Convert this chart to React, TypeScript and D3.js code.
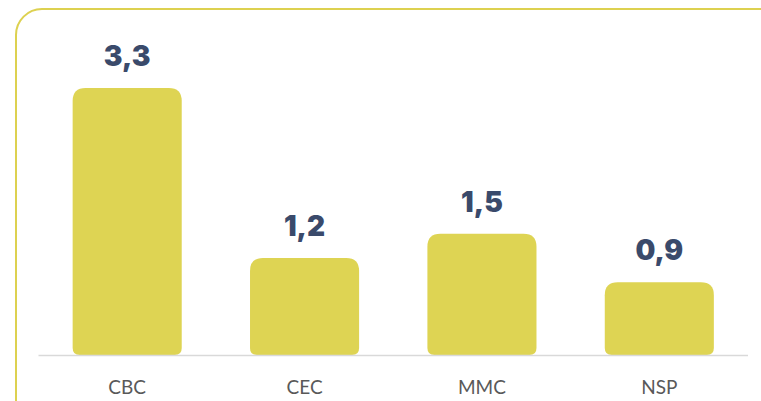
import React from "react";
import * as d3 from "d3";

const categories = ["CBC", "CEC", "MMC", "NSP"];
const values = [3.3, 1.2, 1.5, 0.9];
const valueLabels = ["3,3", "1,2", "1,5", "0,9"];

const W = 761;
const H = 401;
const BAR = "#DED453";
const NAVY = "#3A4A6B";

function barPath(x: number, y: number, w: number, h: number, rt: number, rb: number) {
  const p = d3.path();
  p.moveTo(x + rt, y);
  p.lineTo(x + w - rt, y);
  p.quadraticCurveTo(x + w, y, x + w, y + rt);
  p.lineTo(x + w, y + h - rb);
  p.quadraticCurveTo(x + w, y + h, x + w - rb, y + h);
  p.lineTo(x + rb, y + h);
  p.quadraticCurveTo(x, y + h, x, y + h - rb);
  p.lineTo(x, y + rt);
  p.quadraticCurveTo(x, y, x + rt, y);
  p.closePath();
  return p.toString();
}

export default function App() {
  const baseline = 355;
  const x = d3
    .scaleBand<string>()
    .domain(categories)
    .range([38.5, 748])
    .paddingInner(0.385)
    .paddingOuter(0.1925);
  const y = d3.scaleLinear().domain([0, 3.3]).range([baseline, 88]);

  return (
    <svg
      width={W}
      height={H}
      style={{ position: "absolute", left: 0, top: 0, background: "#fff" }}
    >
      <rect
        x={16}
        y={9}
        width={790}
        height={430}
        rx={26}
        ry={26}
        fill="none"
        stroke="#DDD150"
        strokeWidth={2}
      />
      {categories.map((c, i) => {
        const bx = x(c)!;
        const bw = x.bandwidth();
        const top = y(values[i]);
        return (
          <g key={c}>
            <path d={barPath(bx, top, bw, baseline - top, 13, 7)} fill={BAR} />
            <text
              x={bx + bw / 2}
              y={top - 22}
              textAnchor="middle"
              fontFamily="Inter, 'Open Sans', sans-serif"
              fontWeight={900}
              fontSize={28}
              fill={NAVY}
            >
              {valueLabels[i]}
            </text>
            <text
              x={bx + bw / 2}
              y={394}
              textAnchor="middle"
              fontFamily="Lato, 'Open Sans', sans-serif"
              fontSize={19}
              fill="#595959"
            >
              {c}
            </text>
          </g>
        );
      })}
      <line x1={38.5} x2={748} y1={baseline + 0.5} y2={baseline + 0.5} stroke="#D9D9D9" strokeWidth={1.5} />
    </svg>
  );
}
